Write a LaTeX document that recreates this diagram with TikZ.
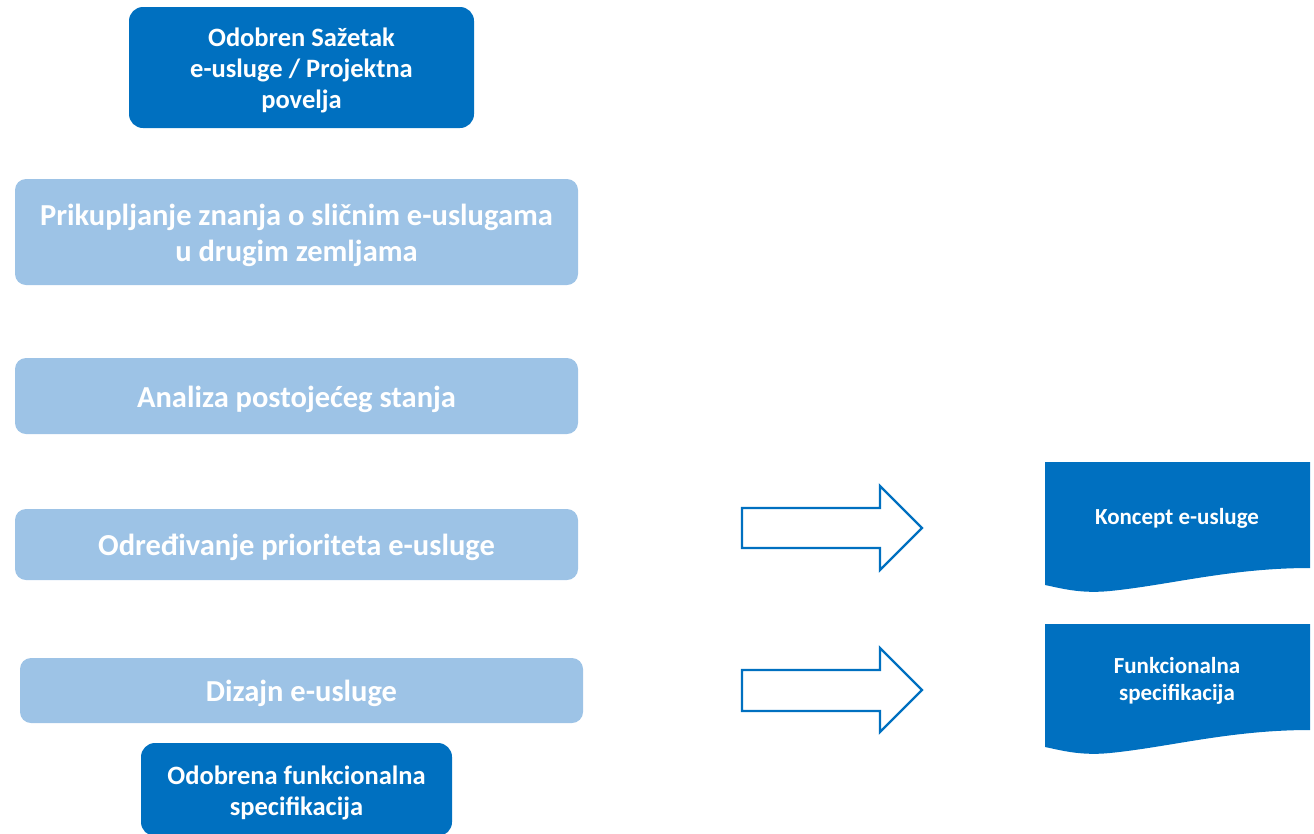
\documentclass[tikz,border=0pt]{standalone}
\usepackage{fontspec}
\setmainfont{Carlito}
\definecolor{dblue}{HTML}{0070C0}
\definecolor{lblue}{HTML}{9DC3E6}
\begin{document}
\begin{tikzpicture}[x=1pt,y=-1pt,
  darkbox/.style={fill=dblue,draw=none,rounded corners=14pt,inner sep=0pt},
  lightbox/.style={fill=lblue,draw=none,rounded corners=11pt,inner sep=0pt},
  bigtext/.style={text=white,align=center,inner sep=0pt,font=\fontsize{30.5}{36}\selectfont\bfseries},
  midtext/.style={text=white,align=center,inner sep=0pt,font=\fontsize{26.5}{31}\selectfont\bfseries},
  docshape/.style={fill=dblue,draw=none},
  blockarrow/.style={draw=dblue,fill=white,line width=2.4pt,line join=miter},
  doctext/.style={text=white,align=center,font=\fontsize{23}{27}\selectfont\bfseries}
]
\useasboundingbox (0,0) rectangle (1314,833);
\begin{scope}
\clip (0,0) rectangle (1314,833);
\node[darkbox,minimum width=345pt,minimum height=121pt] (top) at (301.5,67.5) {};
\node[midtext] (topt) at ([yshift=-2.5pt]top.center) {Odobren Sažetak\\e-usluge / Projektna\\povelja};
\node[lightbox,minimum width=563pt,minimum height=106pt] (b1) at (296.5,232) {};
\node[bigtext] (b1t) at ([yshift=-3pt]b1.center) {Prikupljanje znanja o sličnim e-uslugama\\u drugim zemljama};
\node[lightbox,minimum width=563pt,minimum height=76pt] (b2) at (296.5,396) {};
\node[bigtext] (b2t) at ([yshift=-3pt]b2.center) {Analiza postojećeg stanja};
\node[lightbox,minimum width=563pt,minimum height=71pt] (b3) at (296.5,544.5) {};
\node[bigtext] (b3t) at ([yshift=-3pt]b3.center) {Određivanje prioriteta e-usluge};
\node[lightbox,minimum width=563pt,minimum height=65pt] (b4) at (301.5,690.5) {};
\node[bigtext] (b4t) at ([yshift=-3pt]b4.center) {Dizajn e-usluge};
\node[darkbox,minimum width=311pt,minimum height=93pt] (bot) at (296.5,789.5) {};
\node[midtext] (bott) at ([yshift=-3pt]bot.center) {Odobrena funkcionalna\\specifikacija};
% block arrows
\draw[blockarrow] (742,508) -- (880,508) -- (880,486) -- (922,528) -- (880,570) -- (880,548) -- (742,548) -- cycle;
\draw[blockarrow] (742,670) -- (880,670) -- (880,648) -- (922,690) -- (880,732) -- (880,711) -- (742,711) -- cycle;
% documents
\fill[docshape] (1045,462) -- (1310,462) -- (1310,568) .. controls (1230,568) and (1170,585) .. (1110,591) .. controls (1080,594) and (1060,588) .. (1045,585) -- cycle;
\node[doctext] (d1) at (1177,518) {Koncept e-usluge};
\fill[docshape] (1045,624) -- (1310,624) -- (1310,730) .. controls (1230,730) and (1170,747) .. (1110,753) .. controls (1080,756) and (1060,750) .. (1045,747) -- cycle;
\node[doctext] (d2) at (1177,681) {Funkcionalna\\specifikacija};
\end{scope}
\end{tikzpicture}
\end{document}
